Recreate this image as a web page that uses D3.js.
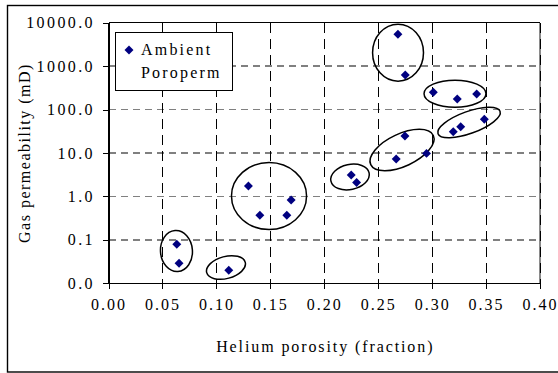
<!DOCTYPE html>
<html>
<head>
<meta charset="utf-8">
<script src="https://cdn.jsdelivr.net/npm/d3@7"></script>
<style>
  html, body { margin: 0; padding: 0; background: #fff; }
  svg text { font-family: "Liberation Serif", "Times New Roman", Times, "DejaVu Serif", serif !important; }
</style>
</head>
<body>
<svg id="chart" width="558" height="373"></svg>
<script>
// Helium porosity (fraction) against gas permeability (mD), ambient poroperm
const porosity = [0.0633, 0.0654, 0.1115, 0.1297, 0.1403, 0.1653, 0.1693,
                  0.2250, 0.2300, 0.2667, 0.2748, 0.2948, 0.2683, 0.2751,
                  0.3011, 0.3233, 0.3413, 0.3484, 0.3265, 0.3196];
const permeability = [0.079, 0.029, 0.020, 1.74, 0.37, 0.37, 0.83,
                      3.1, 2.1, 7.3, 24.6, 9.8, 5400, 625,
                      250, 175, 228, 59.7, 40.3, 31];

const xTicks = [0, 0.05, 0.10, 0.15, 0.20, 0.25, 0.30, 0.35, 0.40];
const yTicks = [0.01, 0.1, 1, 10, 100, 1000, 10000];
const seriesName = ["Ambient", "Poroperm"];

// Hand-drawn cluster outlines: centre (porosity, permeability),
// half-width in porosity, half-height in decades, tilt in degrees
const outlineX = [0.0630, 0.1089, 0.1488, 0.2239, 0.2721, 0.2684, 0.3212, 0.3342];
const outlineY = [0.0553, 0.0231, 1.02, 2.8, 11.7, 2037, 232, 50.4];
const outlineHalfX = [0.0148, 0.0185, 0.0348, 0.0181, 0.0320, 0.0236, 0.0287, 0.0306];
const outlineHalfDec = [0.472, 0.253, 0.771, 0.288, 0.373, 0.656, 0.311, 0.253];
const outlineTilt = [-4, -15, 0, -12, -25, 0, 0, -20];

const svg = d3.select("#chart");
const plot = { left: 108.5, right: 540, top: 22.7, bottom: 283.3 };

const x = d3.scaleLinear().domain([0, 0.4]).range([plot.left, plot.right]);
const y = d3.scaleLog().domain([0.01, 10000]).range([plot.bottom, plot.top]);

// outer chart frame (right edge runs off the page)
svg.append("rect")
  .attr("x", 7.5).attr("y", 5.5).attr("width", 600).attr("height", 366.5)
  .attr("fill", "#fff").attr("stroke", "#000").attr("stroke-width", 1.4);

const g = svg.append("g");

// horizontal gridlines (grey dashes)
g.append("g").attr("shape-rendering", "crispEdges")
  .selectAll("line")
  .data(yTicks.slice(1, -1))
  .join("line")
  .attr("x1", plot.left).attr("x2", plot.right)
  .attr("y1", d => y(d)).attr("y2", d => y(d))
  .attr("stroke", "#808080").attr("stroke-width", 1.5)
  .attr("stroke-dasharray", "7,5");

// right border of plot area
g.append("line")
  .attr("shape-rendering", "crispEdges")
  .attr("x1", plot.right).attr("x2", plot.right)
  .attr("y1", plot.top).attr("y2", plot.bottom)
  .attr("stroke", "#8a8a8a").attr("stroke-width", 2);

// vertical gridlines (black dashes)
g.append("g").attr("shape-rendering", "crispEdges")
  .selectAll("line")
  .data(xTicks.slice(1))
  .join("line")
  .attr("x1", d => x(d)).attr("x2", d => x(d))
  .attr("y1", plot.top).attr("y2", plot.bottom)
  .attr("stroke", "#000").attr("stroke-width", 1)
  .attr("stroke-dasharray", "10,6");

// top border of plot area
g.append("line")
  .attr("shape-rendering", "crispEdges")
  .attr("x1", plot.left).attr("x2", plot.right)
  .attr("y1", plot.top).attr("y2", plot.top)
  .attr("stroke", "#000").attr("stroke-width", 1);

// axes
const fmtX = d3.format(".2f");
const fmtY = d3.format(".1f");

const xAxis = g.append("g")
  .attr("transform", `translate(0,${plot.bottom})`)
  .call(d3.axisBottom(x).tickValues(xTicks).tickFormat(fmtX).tickSize(6).tickSizeOuter(0));
xAxis.attr("font-family", null);
xAxis.select(".domain").attr("stroke", "#000").attr("stroke-width", 1.2)
  .attr("shape-rendering", "crispEdges");
xAxis.selectAll(".tick line").attr("stroke", "#000").attr("stroke-width", 1)
  .attr("shape-rendering", "crispEdges");
xAxis.selectAll(".tick text")
  .attr("y", 27).attr("dy", 0)
  .style("font-size", "16px").style("letter-spacing", "2px")
  .attr("fill", "#000");

const yAxis = g.append("g")
  .attr("transform", `translate(${plot.left},0)`)
  .call(d3.axisLeft(y).tickValues(yTicks).tickFormat(fmtY).tickSize(6).tickSizeOuter(0));
yAxis.attr("font-family", null);
yAxis.select(".domain").attr("stroke", "#000").attr("stroke-width", 1.2)
  .attr("shape-rendering", "crispEdges");
yAxis.selectAll(".tick line").attr("stroke", "#000").attr("stroke-width", 1)
  .attr("shape-rendering", "crispEdges");
yAxis.selectAll(".tick text")
  .attr("x", -13.5).attr("dy", "0.32em")
  .style("font-size", "16px").style("letter-spacing", "2.4px")
  .attr("fill", "#000");

// axis titles
svg.append("text")
  .attr("x", (plot.left + plot.right) / 2 + 1).attr("y", 351.5)
  .attr("text-anchor", "middle")
  .style("font-size", "16px").style("letter-spacing", "1.9px")
  .text("Helium porosity (fraction)");

svg.append("text")
  .attr("transform", `translate(30,${(plot.top + plot.bottom) / 2}) rotate(-90)`)
  .attr("text-anchor", "middle")
  .style("font-size", "16px").style("letter-spacing", "1.5px")
  .text("Gas permeability (mD)");

// cluster outlines
const outlines = d3.range(outlineX.length).map(i => {
  const cx = x(outlineX[i]);
  const cy = y(outlineY[i]);
  const rx = x(outlineX[i] + outlineHalfX[i]) - x(outlineX[i]);
  const ry = y(outlineY[i] / Math.pow(10, outlineHalfDec[i])) - cy;
  return { cx, cy, rx, ry, tilt: outlineTilt[i] };
});
g.append("g").selectAll("ellipse")
  .data(outlines)
  .join("ellipse")
  .attr("transform", d => `translate(${d.cx},${d.cy}) rotate(${d.tilt})`)
  .attr("rx", d => d.rx).attr("ry", d => d.ry)
  .attr("fill", "none").attr("stroke", "#000").attr("stroke-width", 1.5);

// data points (navy diamonds)
const marker = d3.symbol().type(d3.symbolSquare).size(40);
g.append("g").selectAll("path")
  .data(porosity.map((p, i) => [p, permeability[i]]))
  .join("path")
  .attr("d", marker)
  .attr("transform", d => `translate(${x(d[0])},${y(d[1])}) rotate(45)`)
  .attr("fill", "#000080");

// legend
const lg = svg.append("g");
lg.append("rect")
  .attr("shape-rendering", "crispEdges")
  .attr("x", 115.7).attr("y", 32.3).attr("width", 116.6).attr("height", 57.7)
  .attr("fill", "#fff").attr("stroke", "#000").attr("stroke-width", 1);
lg.append("path")
  .attr("d", marker)
  .attr("transform", "translate(129,50) rotate(45)")
  .attr("fill", "#000080");
lg.selectAll("text.lbl")
  .data(seriesName)
  .join("text")
  .attr("class", "lbl")
  .attr("x", 141).attr("y", (d, i) => 55 + i * 22.5)
  .style("font-size", "16px").style("letter-spacing", "2.2px")
  .text(d => d);
</script>
</body>
</html>
